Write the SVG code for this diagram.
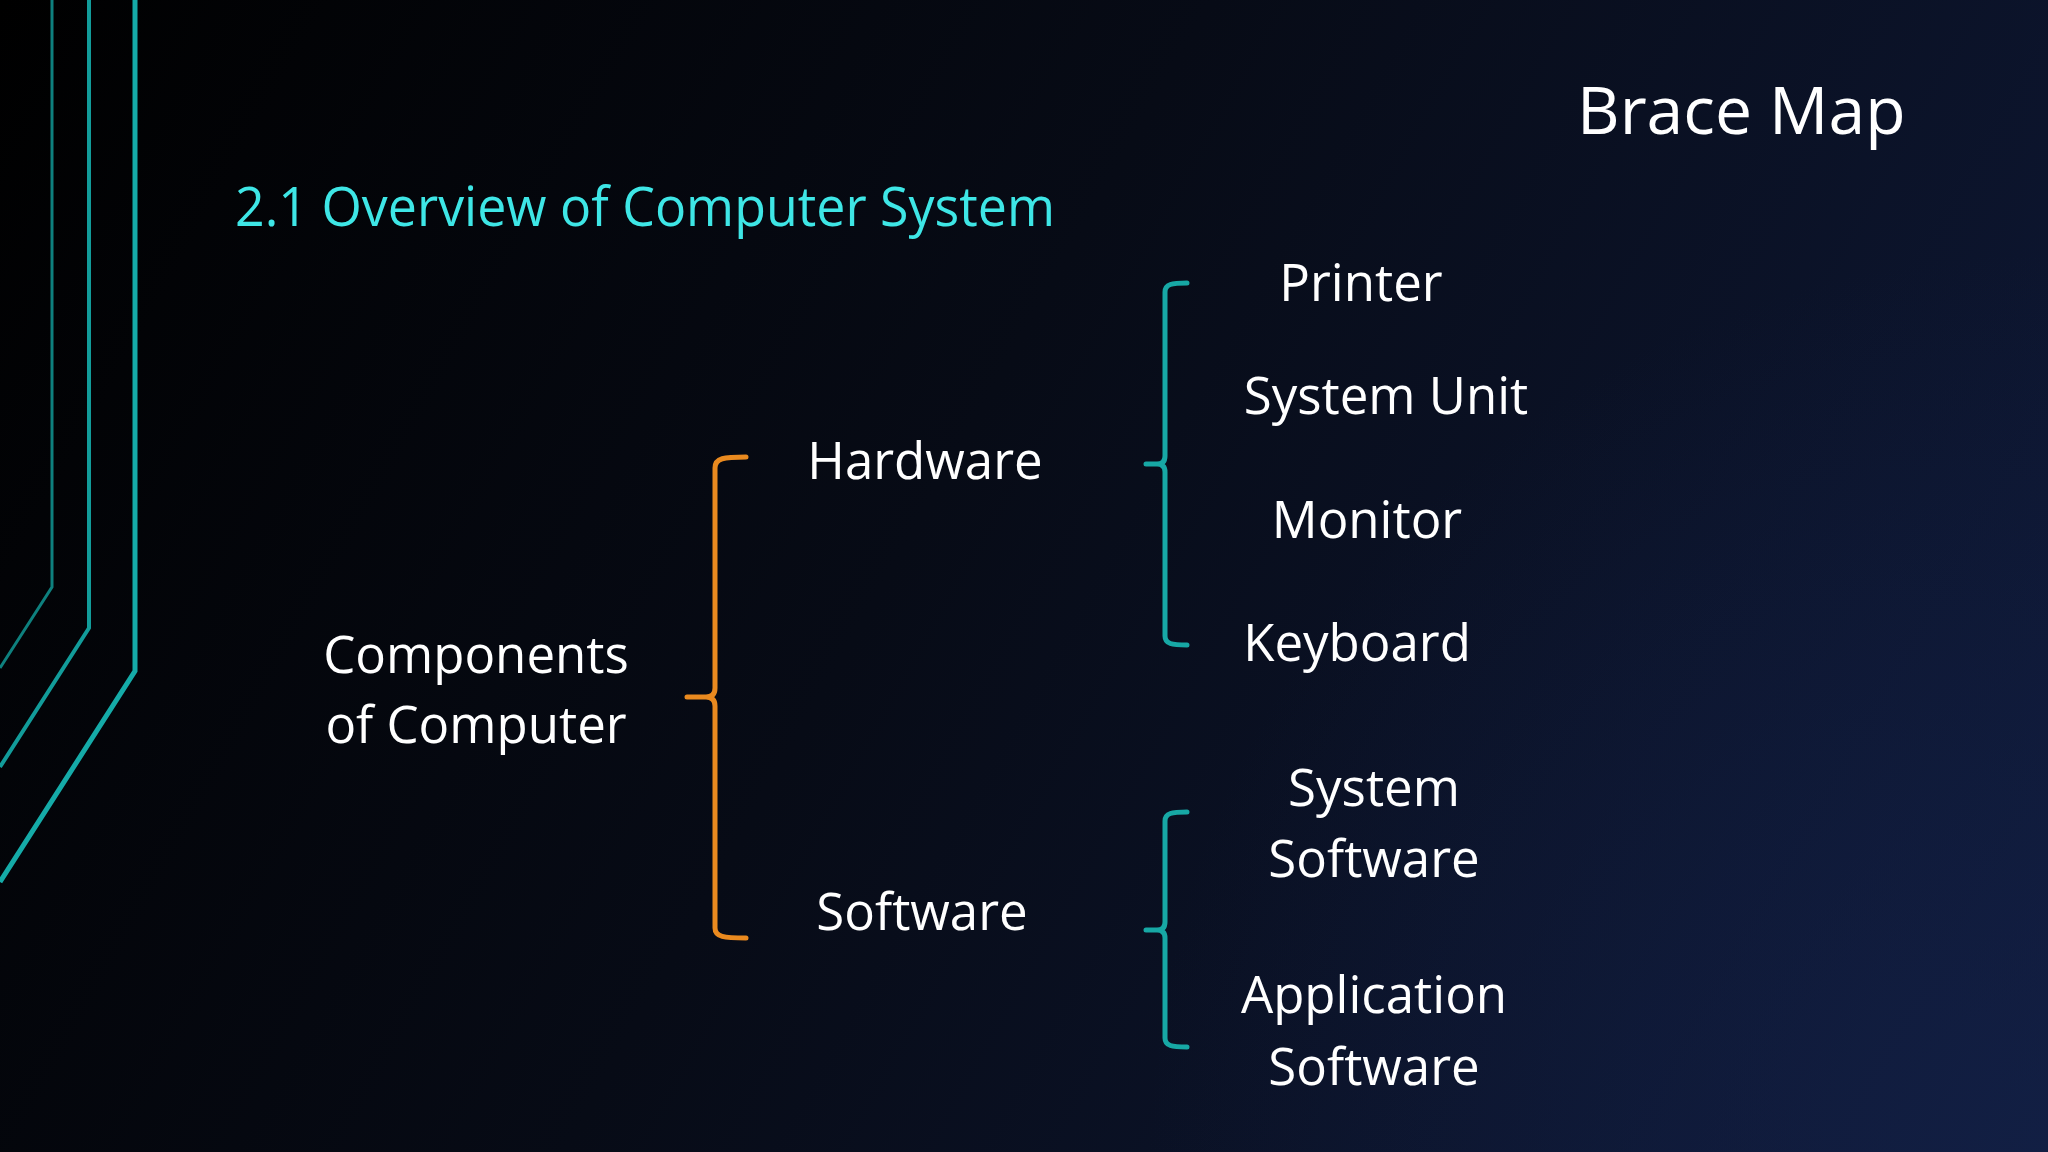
<svg xmlns="http://www.w3.org/2000/svg" width="2048" height="1152" viewBox="0 0 2048 1152">
  <defs>
    <linearGradient id="bg" x1="0" y1="0" x2="2048" y2="1152" gradientUnits="userSpaceOnUse">
      <stop offset="0" stop-color="#000000"/>
      <stop offset="0.45" stop-color="#070b16"/>
      <stop offset="1" stop-color="#0f1a3a"/>
    </linearGradient>
    <radialGradient id="glow" cx="2048" cy="1152" r="900" gradientUnits="userSpaceOnUse">
      <stop offset="0" stop-color="#14224a" stop-opacity="0.6"/>
      <stop offset="1" stop-color="#14224a" stop-opacity="0"/>
    </radialGradient>
    <style>
      .lbl { font-family: "Open Sans", "Noto Sans", "Liberation Sans", sans-serif; font-size: 51px; fill: #ffffff; }
      .title { font-family: "Open Sans", "Noto Sans", "Liberation Sans", sans-serif; font-size: 55px; fill: #3ee6e6; }
      .head { font-family: "Open Sans", "Noto Sans", "Liberation Sans", sans-serif; font-size: 66px; fill: #ffffff; }
      .brace { fill: none; stroke-width: 5; stroke-linecap: round; stroke-linejoin: round; }
      .orange { stroke: #ea8a1f; }
      .teal { stroke: #17a8a5; }
      .deco { fill: none; }
    </style>
  </defs>

  <rect width="2048" height="1152" fill="url(#bg)"/>
  <rect width="2048" height="1152" fill="url(#glow)"/>

  <g id="decoration">
    <polyline class="deco" points="52,0 52,587 0,668" stroke="#0e807e" stroke-width="3"/>
    <polyline class="deco" points="89,0 89,628 0,767" stroke="#129c9a" stroke-width="4"/>
    <polyline class="deco" points="135,0 135,671 0,882" stroke="#15aba8" stroke-width="5"/>
  </g>

  <g id="slide-title">
    <text class="head" x="1577" y="134">Brace Map</text>
  </g>
  <g id="section-title">
    <text class="title" x="235" y="226" textLength="820" lengthAdjust="spacingAndGlyphs">2.1 Overview of Computer System</text>
  </g>

  <g id="connectors">
    <path class="brace orange" d="M746,457 C724,457 715,458 715,468 L715,688 Q715,697 706,697 L687,697 M706,697 Q715,697 715,706 L715,928 C715,937 724,938 746,938"/>
    <path class="brace teal" d="M1187,283 C1172,283 1165,284 1165,292 L1165,456 Q1165,464 1157,464 L1146,464 M1157,464 Q1165,464 1165,472 L1165,636 C1165,644 1172,645 1187,645"/>
    <path class="brace teal" d="M1187,812 C1172,812 1165,813 1165,821 L1165,922 Q1165,930 1157,930 L1146,930 M1157,930 Q1165,930 1165,938 L1165,1038 C1165,1046 1172,1047 1187,1047"/>
  </g>

  <g id="node-components">
    <text class="lbl" x="476" y="673" text-anchor="middle">Components</text>
    <text class="lbl" x="476" y="743" text-anchor="middle">of Computer</text>
  </g>
  <g id="node-hardware">
    <text class="lbl" x="925" y="479" text-anchor="middle">Hardware</text>
  </g>
  <g id="node-software">
    <text class="lbl" x="922" y="930" text-anchor="middle">Software</text>
  </g>
  <g id="node-printer">
    <text class="lbl" x="1361" y="301" text-anchor="middle">Printer</text>
  </g>
  <g id="node-system-unit">
    <text class="lbl" x="1386" y="414" text-anchor="middle">System Unit</text>
  </g>
  <g id="node-monitor">
    <text class="lbl" x="1367" y="538" text-anchor="middle">Monitor</text>
  </g>
  <g id="node-keyboard">
    <text class="lbl" x="1357" y="661" text-anchor="middle">Keyboard</text>
  </g>
  <g id="node-system-software">
    <text class="lbl" x="1374" y="806" text-anchor="middle">System</text>
    <text class="lbl" x="1374" y="877" text-anchor="middle">Software</text>
  </g>
  <g id="node-application-software">
    <text class="lbl" x="1374" y="1013" text-anchor="middle">Application</text>
    <text class="lbl" x="1374" y="1085" text-anchor="middle">Software</text>
  </g>
</svg>
